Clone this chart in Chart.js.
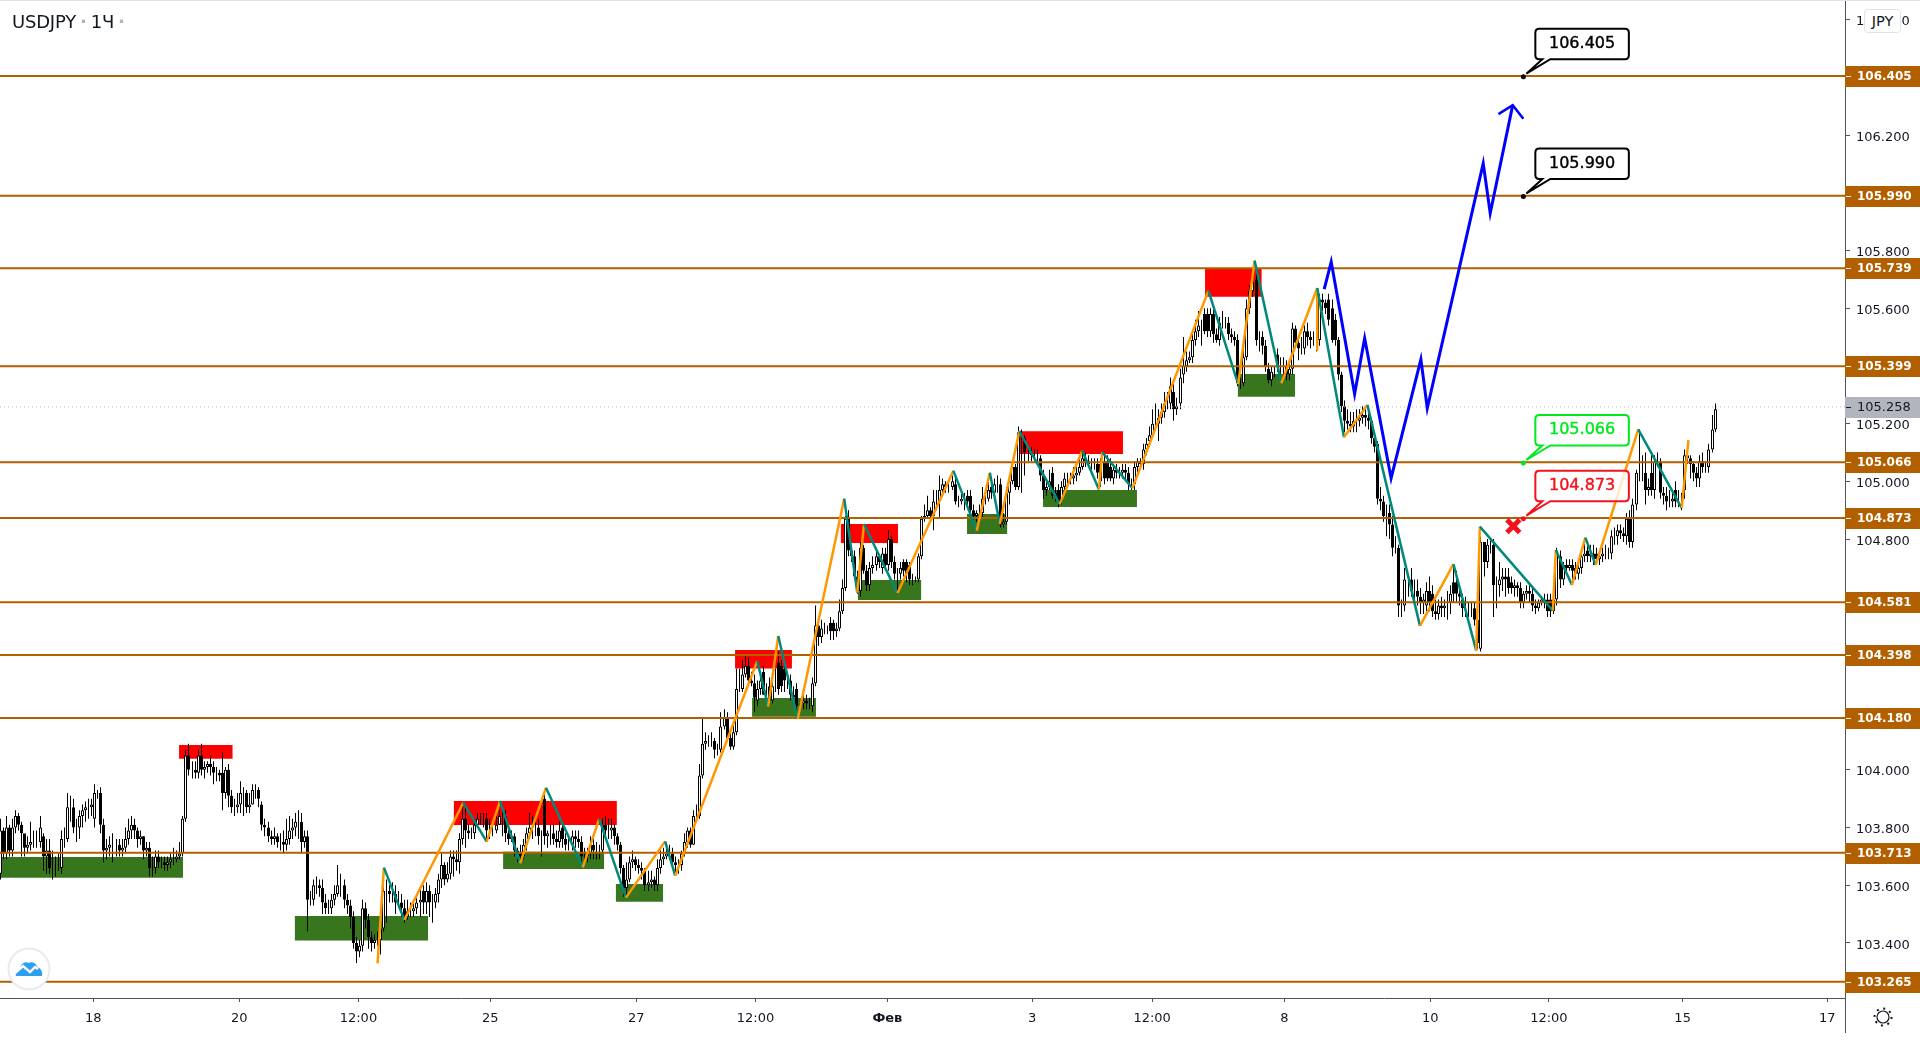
<!DOCTYPE html>
<html>
<head>
<meta charset="utf-8">
<title>USDJPY</title>
<script src="https://cdn.jsdelivr.net/npm/chart.js@4/dist/chart.umd.min.js"></script>
<style>
    html, body { margin: 0; padding: 0; background: #fff; overflow: hidden; }
    #wrap { position: relative; width: 1920px; height: 1042px; }
    #topline { position: absolute; left: 0; top: 0; width: 1920px; height: 1px; background: #e0e3eb; }
    #title { position: absolute; left: 12px; top: 11px; font: 18px "DejaVu Sans"; color: #131722; letter-spacing: -0.2px; }
    #title span { color: #b2b5be; font-weight: bold; margin: 0 4px; }
    #cur { position: absolute; left: 1864px; top: 9px; width: 35px; height: 22px; background: #fff; border: 1px solid #e0e3eb; border-radius: 4px;
           font: 14.5px "DejaVu Sans"; color: #131722; text-align: center; line-height: 22px; }
    #logo { position: absolute; left: 7px; top: 947px; }
    #gear { position: absolute; left: 1872px; top: 1006px; }
</style>
</head>
<body>
<div id="wrap">
    <canvas id="chart" width="1920" height="1042"></canvas>
    <div id="topline"></div>
    <div id="title">USDJPY<span>·</span>1Ч<span>·</span></div>
    <div id="cur">JPY</div>
    <svg id="logo" width="44" height="44">
        <circle cx="22" cy="22" r="20.5" fill="#fff" stroke="#e8eaf0" stroke-width="2"/>
        <path d="M9 29 C8 25 10 22 13 21 C14 17 18 14 22 16 C25 14 30 17 30 20 C34 21 36 25 35 29 Z" fill="#2e9ef0"/>
        <path d="M8 26 L16 19 L23 25 L28 20 L31 22" fill="none" stroke="#fff" stroke-width="2.4"/>
    </svg>
    <svg id="gear" width="22" height="22">
        <circle cx="11" cy="11" r="6" fill="none" stroke="#131722" stroke-width="1.2"/>
        <circle cx="11" cy="11" r="8.5" fill="none" stroke="#131722" stroke-width="2" stroke-dasharray="2 4.67"/>
    </svg>
</div>
<script>
// 1 bar = 3.04px on the time axis, x values below are in bars
const BAR_PX = 3.04;
const X_MAX = 1845 / BAR_PX;
const Y_MIN = 103.2091, Y_MAX = 106.6684;

const tickBars = [30.7, 78.7, 117.9, 161.3, 209.3, 248.5, 291.9, 339.5, 379, 422.5, 470.5, 509.5, 553.5, 601.1];
const tickLabels = ['18', '20', '12:00', '25', '27', '12:00', 'Фев', '3', '12:00', '8', '10', '12:00', '15', '17'];

const levels = [106.405, 105.990, 105.739, 105.399, 105.066, 104.873, 104.581, 104.398, 104.180, 103.713, 103.265];
const lastPrice = 105.258;

const opens = [
103.64,103.79,103.71,103.80,103.72,103.80,103.84,103.81,103.78,103.73,
103.74,103.75,103.75,103.75,103.77,103.70,103.72,103.66,103.66,103.66,
103.66,103.76,103.76,103.87,103.87,103.80,103.80,103.84,103.86,103.87,
103.87,103.83,103.92,103.92,103.81,103.72,103.73,103.74,103.74,103.74,
103.72,103.73,103.76,103.79,103.81,103.79,103.76,103.77,103.72,103.73,
103.66,103.66,103.70,103.68,103.68,103.67,103.68,103.69,103.69,103.70,
103.71,103.83,104.05,104.00,104.00,103.99,104.05,104.00,104.01,104.02,
104.01,103.99,103.99,103.99,103.92,104.00,103.91,103.87,103.87,103.88,
103.92,103.92,103.87,103.88,103.93,103.93,103.88,103.81,103.80,103.77,
103.76,103.77,103.75,103.75,103.74,103.76,103.79,103.80,103.82,103.82,
103.75,103.77,103.55,103.55,103.60,103.60,103.59,103.54,103.52,103.52,
103.55,103.57,103.60,103.60,103.55,103.53,103.49,103.40,103.37,103.39,
103.52,103.48,103.42,103.40,103.41,103.41,103.45,103.58,103.58,103.57,
103.57,103.54,103.54,103.52,103.49,103.51,103.51,103.52,103.54,103.58,
103.54,103.58,103.54,103.54,103.57,103.62,103.67,103.62,103.64,103.70,
103.69,103.68,103.76,103.83,103.79,103.78,103.78,103.81,103.83,103.83,
103.83,103.79,103.79,103.79,103.81,103.84,103.84,103.78,103.76,103.77,
103.72,103.71,103.70,103.74,103.78,103.80,103.80,103.80,103.77,103.90,
103.77,103.78,103.78,103.76,103.75,103.80,103.76,103.74,103.74,103.77,
103.76,103.75,103.70,103.70,103.71,103.74,103.72,103.72,103.72,103.81,
103.79,103.79,103.80,103.77,103.74,103.66,103.59,103.62,103.68,103.69,
103.67,103.66,103.65,103.60,103.61,103.62,103.60,103.66,103.69,103.70,
103.71,103.71,103.68,103.67,103.67,103.71,103.75,103.79,103.74,103.84,
103.84,103.98,104.09,104.10,104.10,104.10,104.07,104.07,104.15,104.18,
104.11,104.08,104.13,104.28,104.28,104.33,104.36,104.31,104.30,104.24,
104.28,104.34,104.26,104.29,104.24,104.29,104.37,104.36,104.35,104.31,
104.31,104.26,104.28,104.22,104.23,104.24,104.23,104.22,104.30,104.50,
104.46,104.49,104.49,104.51,104.51,104.48,104.49,104.55,104.63,104.87,
104.76,104.74,104.67,104.62,104.77,104.69,104.64,104.70,104.71,104.74,
104.70,104.75,104.71,104.80,104.72,104.68,104.68,104.72,104.72,104.71,
104.66,104.66,104.66,104.74,104.87,104.88,104.90,104.88,104.93,104.93,
104.97,104.99,104.98,104.98,104.99,104.93,104.93,104.94,104.95,104.95,
104.90,104.88,104.89,104.89,104.94,104.94,104.98,104.96,104.99,104.99,
104.85,104.86,104.96,105.00,105.05,104.98,105.17,105.15,105.10,105.10,
105.09,105.09,105.08,105.02,104.97,104.98,105.03,104.95,104.97,104.93,
104.98,105.01,105.01,105.01,105.02,105.03,105.05,105.08,105.07,105.06,
105.06,105.06,105.00,105.07,105.07,105.05,105.01,105.04,105.03,105.03,
105.04,105.03,104.99,104.99,105.05,105.07,105.06,105.11,105.14,105.16,
105.20,105.20,105.22,105.24,105.27,105.27,105.31,105.25,105.27,105.37,
105.40,105.42,105.43,105.49,105.52,105.54,105.58,105.58,105.52,105.58,
105.51,105.49,105.55,105.55,105.55,105.51,105.50,105.49,105.34,105.34,
105.43,105.60,105.66,105.70,105.49,105.50,105.47,105.39,105.35,105.38,
105.44,105.40,105.40,105.40,105.37,105.39,105.53,105.48,105.46,105.46,
105.52,105.50,105.49,105.49,105.49,105.63,105.62,105.63,105.60,105.56,
105.49,105.37,105.26,105.21,105.20,105.19,105.21,105.21,105.22,105.23,
105.22,105.21,105.15,105.13,104.94,104.93,104.88,104.89,104.85,104.77,
104.77,104.57,104.57,104.66,104.66,104.62,104.62,104.60,104.58,104.57,
104.62,104.61,104.55,104.54,104.57,104.56,104.57,104.58,104.65,104.65,
104.61,104.59,104.56,104.56,104.56,104.56,104.52,104.42,104.79,104.72,
104.78,104.78,104.64,104.64,104.66,104.67,104.67,104.65,104.63,104.64,
104.63,104.58,104.61,104.62,104.61,104.57,104.56,104.58,104.59,104.59,
104.59,104.55,104.59,104.74,104.66,104.71,104.70,104.71,104.70,104.68,
104.70,104.74,104.76,104.74,104.75,104.75,104.73,104.74,104.75,104.75,
104.75,104.81,104.81,104.83,104.82,104.81,104.87,104.79,104.92,105.03,
105.03,105.03,104.97,105.03,104.97,105.07,105.07,104.96,104.95,104.93,
104.93,104.97,104.93,104.93,104.97,105.09,105.08,105.06,105.03,105.01,
105.07,105.05,105.05,105.11,105.18];

const highs = [
103.83,103.80,103.84,103.81,103.83,103.86,103.85,103.82,103.77,103.77,
103.82,103.79,103.79,103.84,103.78,103.76,103.76,103.72,103.70,103.71,
103.79,103.80,103.92,103.91,103.90,103.83,103.86,103.88,103.89,103.90,
103.90,103.95,103.93,103.94,103.83,103.76,103.77,103.78,103.76,103.76,
103.76,103.80,103.83,103.84,103.83,103.80,103.79,103.77,103.75,103.75,
103.70,103.72,103.72,103.70,103.70,103.70,103.71,103.73,103.72,103.75,
103.84,104.07,104.09,104.03,104.03,104.07,104.09,104.03,104.03,104.05,
104.03,104.01,104.00,104.06,104.01,104.02,103.93,103.90,103.92,103.96,
103.94,103.93,103.92,103.95,103.95,103.94,103.89,103.83,103.82,103.79,
103.80,103.78,103.78,103.79,103.83,103.84,103.83,103.85,103.86,103.85,
103.79,103.79,103.58,103.62,103.63,103.62,103.62,103.57,103.55,103.57,
103.60,103.67,103.64,103.62,103.57,103.55,103.51,103.42,103.41,103.55,
103.54,103.50,103.44,103.43,103.44,103.50,103.60,103.62,103.60,103.61,
103.60,103.58,103.57,103.55,103.55,103.54,103.54,103.57,103.59,103.60,
103.61,103.60,103.57,103.59,103.64,103.71,103.68,103.68,103.72,103.72,
103.72,103.78,103.88,103.87,103.81,103.80,103.83,103.85,103.85,103.85,
103.85,103.83,103.82,103.84,103.86,103.88,103.86,103.80,103.79,103.78,
103.73,103.74,103.76,103.80,103.85,103.84,103.84,103.83,103.79,103.93,
103.79,103.81,103.81,103.79,103.82,103.82,103.78,103.77,103.79,103.79,
103.79,103.77,103.73,103.73,103.77,103.77,103.75,103.74,103.83,103.84,
103.83,103.83,103.81,103.78,103.75,103.67,103.68,103.70,103.72,103.70,
103.69,103.68,103.66,103.65,103.65,103.63,103.69,103.72,103.73,103.74,
103.74,103.73,103.70,103.69,103.72,103.78,103.80,103.80,103.86,103.88,
104.02,104.18,104.13,104.12,104.13,104.11,104.09,104.20,104.21,104.20,
104.14,104.16,104.35,104.35,104.38,104.40,104.39,104.34,104.33,104.31,
104.34,104.36,104.30,104.32,104.31,104.35,104.41,104.38,104.37,104.34,
104.33,104.29,104.30,104.24,104.26,104.26,104.25,104.32,104.57,104.53,
104.52,104.51,104.50,104.53,104.52,104.51,104.59,104.66,104.88,104.90,
104.78,104.76,104.69,104.79,104.78,104.71,104.72,104.74,104.76,104.74,
104.77,104.77,104.83,104.81,104.74,104.70,104.72,104.73,104.73,104.72,
104.68,104.67,104.75,104.88,104.92,104.95,104.91,104.97,104.97,105.02,
105.01,105.00,105.00,105.02,105.01,104.95,104.96,104.96,104.97,104.97,
104.92,104.90,104.92,104.98,104.97,105.00,105.00,105.01,105.02,105.01,
104.89,104.98,105.02,105.06,105.06,105.19,105.18,105.16,105.12,105.12,
105.11,105.11,105.09,105.04,105.00,105.04,105.05,104.98,104.99,105.00,
105.03,105.03,105.03,105.05,105.05,105.08,105.10,105.10,105.09,105.08,
105.08,105.08,105.08,105.09,105.09,105.08,105.06,105.06,105.05,105.06,
105.06,105.05,105.01,105.07,105.08,105.08,105.13,105.15,105.19,105.25,
105.27,105.25,105.27,105.31,105.31,105.36,105.34,105.29,105.39,105.50,
105.45,105.45,105.52,105.56,105.59,105.56,105.60,105.60,105.60,105.60,
105.53,105.57,105.59,105.57,105.57,105.53,105.52,105.51,105.36,105.46,
105.63,105.68,105.71,105.72,105.52,105.52,105.49,105.41,105.40,105.40,
105.46,105.43,105.43,105.42,105.41,105.55,105.54,105.50,105.50,105.54,
105.55,105.52,105.52,105.52,105.65,105.65,105.63,105.65,105.63,105.58,
105.50,105.38,105.28,105.25,105.24,105.24,105.25,105.25,105.26,105.25,
105.24,105.22,105.17,105.14,104.98,104.95,104.92,104.92,104.88,104.81,
104.78,104.59,104.70,104.68,104.70,104.66,104.66,104.63,104.61,104.65,
104.67,104.64,104.59,104.59,104.60,104.59,104.62,104.64,104.70,104.69,
104.63,104.61,104.60,104.58,104.58,104.58,104.53,104.81,104.78,104.80,
104.80,104.80,104.67,104.72,104.70,104.70,104.70,104.67,104.66,104.65,
104.65,104.62,104.64,104.64,104.63,104.59,104.59,104.60,104.61,104.61,
104.61,104.60,104.77,104.76,104.72,104.73,104.73,104.73,104.72,104.71,
104.76,104.80,104.78,104.78,104.78,104.77,104.76,104.77,104.78,104.77,
104.83,104.84,104.85,104.85,104.84,104.89,104.90,104.94,105.04,105.18,
105.09,105.10,105.01,105.10,105.09,105.10,105.08,104.98,104.98,104.97,
104.96,105.00,104.97,104.96,105.11,105.12,105.09,105.07,105.05,105.09,
105.10,105.07,105.13,105.23,105.27];

const lows = [
103.62,103.69,103.69,103.70,103.70,103.78,103.79,103.70,103.70,103.71,
103.72,103.73,103.73,103.73,103.65,103.64,103.64,103.62,103.63,103.65,
103.64,103.73,103.75,103.82,103.78,103.75,103.76,103.80,103.82,103.83,
103.84,103.80,103.90,103.78,103.68,103.69,103.70,103.68,103.70,103.70,
103.70,103.71,103.74,103.76,103.76,103.73,103.74,103.69,103.70,103.63,
103.63,103.64,103.66,103.66,103.65,103.65,103.66,103.67,103.68,103.69,
103.70,103.82,103.98,103.97,103.97,103.97,103.98,103.97,103.99,103.98,
103.95,103.96,103.96,103.86,103.90,103.87,103.85,103.84,103.85,103.85,
103.84,103.85,103.85,103.88,103.90,103.87,103.79,103.77,103.75,103.74,
103.74,103.73,103.72,103.71,103.72,103.74,103.76,103.77,103.76,103.71,
103.73,103.44,103.53,103.53,103.57,103.56,103.50,103.50,103.50,103.50,
103.53,103.56,103.56,103.52,103.50,103.45,103.38,103.33,103.35,103.37,
103.45,103.38,103.37,103.38,103.39,103.36,103.44,103.47,103.54,103.54,
103.50,103.52,103.49,103.47,103.48,103.49,103.49,103.50,103.49,103.50,
103.50,103.49,103.47,103.52,103.54,103.59,103.60,103.61,103.62,103.63,
103.65,103.64,103.74,103.73,103.76,103.76,103.76,103.80,103.81,103.80,
103.75,103.76,103.77,103.78,103.81,103.77,103.75,103.74,103.75,103.70,
103.68,103.68,103.69,103.72,103.76,103.76,103.77,103.74,103.70,103.74,
103.73,103.74,103.74,103.73,103.73,103.73,103.72,103.72,103.72,103.73,
103.73,103.68,103.67,103.68,103.69,103.69,103.69,103.69,103.71,103.77,
103.76,103.76,103.74,103.72,103.64,103.56,103.56,103.61,103.66,103.65,
103.64,103.62,103.58,103.58,103.59,103.58,103.58,103.64,103.67,103.69,
103.69,103.66,103.64,103.64,103.65,103.70,103.73,103.73,103.74,103.82,
103.83,103.97,104.07,104.08,104.08,104.04,104.05,104.06,104.14,104.10,
104.07,104.07,104.12,104.27,104.27,104.32,104.30,104.29,104.20,104.22,
104.26,104.26,104.24,104.22,104.23,104.27,104.26,104.27,104.27,104.28,
104.24,104.23,104.20,104.21,104.21,104.21,104.21,104.20,104.29,104.43,
104.44,104.47,104.47,104.45,104.45,104.46,104.48,104.54,104.62,104.74,
104.72,104.66,104.61,104.60,104.68,104.62,104.62,104.68,104.69,104.70,
104.68,104.69,104.69,104.70,104.66,104.61,104.66,104.67,104.65,104.64,
104.64,104.65,104.65,104.73,104.86,104.87,104.87,104.83,104.90,104.87,
104.95,104.96,104.96,104.97,104.92,104.91,104.92,104.90,104.91,104.88,
104.86,104.86,104.87,104.87,104.92,104.93,104.94,104.95,104.96,104.84,
104.84,104.85,104.92,104.99,104.97,104.97,104.96,105.02,105.07,105.07,
105.07,105.07,105.00,104.94,104.95,104.97,104.94,104.93,104.91,104.92,
104.97,104.99,104.99,104.99,105.00,105.02,105.04,105.05,105.05,105.04,
105.04,105.01,104.98,104.99,105.00,105.00,104.99,105.01,105.01,105.01,
105.00,104.97,104.97,104.97,105.03,105.04,105.04,105.09,105.12,105.15,
105.18,105.14,105.20,105.22,105.25,105.25,105.21,105.23,105.25,105.34,
105.38,105.41,105.41,105.47,105.50,105.47,105.51,105.50,105.50,105.48,
105.48,105.47,105.53,105.53,105.49,105.48,105.47,105.33,105.32,105.33,
105.42,105.58,105.64,105.47,105.45,105.44,105.38,105.34,105.33,105.36,
105.38,105.37,105.36,105.35,105.35,105.37,105.46,105.42,105.44,105.44,
105.47,105.46,105.47,105.45,105.47,105.59,105.58,105.54,105.48,105.47,
105.35,105.24,105.17,105.18,105.17,105.17,105.17,105.19,105.20,105.19,
105.18,105.13,105.10,104.92,104.90,104.86,104.81,104.80,104.74,104.75,
104.53,104.53,104.55,104.60,104.60,104.58,104.57,104.54,104.54,104.55,
104.55,104.53,104.52,104.52,104.53,104.53,104.52,104.54,104.58,104.58,
104.57,104.53,104.53,104.53,104.53,104.50,104.42,104.41,104.67,104.70,
104.75,104.53,104.56,104.60,104.62,104.60,104.61,104.61,104.60,104.60,
104.56,104.56,104.59,104.58,104.55,104.54,104.55,104.57,104.56,104.53,
104.53,104.54,104.57,104.63,104.64,104.68,104.69,104.66,104.66,104.66,
104.68,104.72,104.72,104.72,104.71,104.71,104.71,104.72,104.73,104.73,
104.73,104.78,104.78,104.80,104.79,104.78,104.77,104.77,104.90,105.00,
105.00,104.92,104.95,104.95,104.94,105.05,104.94,104.92,104.90,104.91,
104.91,104.91,104.91,104.90,104.94,105.06,105.01,105.00,104.98,104.98,
105.03,105.03,105.03,105.10,105.17];

const closes = [
103.79,103.71,103.80,103.72,103.80,103.84,103.81,103.78,103.73,103.74,
103.75,103.75,103.75,103.80,103.70,103.72,103.66,103.66,103.66,103.66,
103.76,103.76,103.87,103.87,103.80,103.80,103.84,103.86,103.87,103.87,
103.88,103.92,103.92,103.81,103.72,103.73,103.74,103.74,103.74,103.72,
103.73,103.76,103.79,103.81,103.79,103.76,103.77,103.72,103.73,103.66,
103.66,103.70,103.68,103.68,103.67,103.68,103.69,103.69,103.70,103.71,
103.83,104.05,104.00,104.00,103.99,104.05,104.00,104.01,104.02,104.01,
103.99,103.99,103.98,103.92,104.00,103.91,103.87,103.87,103.88,103.92,
103.92,103.87,103.88,103.93,103.93,103.90,103.81,103.80,103.77,103.76,
103.77,103.75,103.75,103.74,103.76,103.79,103.80,103.82,103.82,103.75,
103.77,103.55,103.55,103.60,103.60,103.59,103.54,103.52,103.52,103.55,
103.57,103.60,103.60,103.55,103.53,103.49,103.40,103.37,103.39,103.52,
103.48,103.42,103.40,103.41,103.41,103.45,103.58,103.58,103.57,103.57,
103.54,103.54,103.52,103.49,103.51,103.51,103.52,103.54,103.55,103.54,
103.58,103.54,103.54,103.57,103.62,103.67,103.62,103.64,103.70,103.69,
103.68,103.76,103.83,103.79,103.78,103.78,103.81,103.83,103.83,103.83,
103.79,103.79,103.79,103.81,103.84,103.84,103.78,103.76,103.77,103.72,
103.71,103.70,103.74,103.78,103.80,103.80,103.80,103.77,103.77,103.77,
103.78,103.78,103.76,103.75,103.79,103.76,103.74,103.74,103.77,103.76,
103.75,103.70,103.70,103.71,103.74,103.72,103.72,103.72,103.81,103.79,
103.79,103.80,103.77,103.74,103.66,103.59,103.62,103.68,103.69,103.67,
103.66,103.65,103.60,103.61,103.62,103.60,103.66,103.69,103.70,103.71,
103.71,103.68,103.67,103.67,103.71,103.75,103.79,103.74,103.84,103.84,
103.98,104.09,104.10,104.10,104.10,104.07,104.07,104.15,104.18,104.11,
104.08,104.13,104.28,104.28,104.33,104.36,104.31,104.30,104.25,104.28,
104.31,104.26,104.26,104.24,104.29,104.29,104.28,104.29,104.31,104.31,
104.26,104.25,104.22,104.23,104.24,104.23,104.23,104.30,104.50,104.46,
104.49,104.49,104.49,104.48,104.48,104.49,104.55,104.63,104.87,104.76,
104.74,104.67,104.62,104.77,104.69,104.64,104.70,104.71,104.74,104.72,
104.75,104.71,104.80,104.72,104.68,104.68,104.70,104.69,104.68,104.66,
104.66,104.66,104.74,104.87,104.88,104.90,104.88,104.93,104.93,104.97,
104.99,104.98,104.98,105.00,104.93,104.93,104.94,104.94,104.93,104.90,
104.88,104.89,104.89,104.94,104.94,104.97,104.96,104.99,104.99,104.85,
104.86,104.96,105.00,105.05,104.98,105.17,105.17,105.10,105.10,105.09,
105.09,105.09,105.02,104.97,104.98,105.00,104.95,104.96,104.93,104.98,
105.01,105.01,105.01,105.02,105.03,105.05,105.08,105.07,105.06,105.06,
105.06,105.03,105.06,105.01,105.01,105.01,105.04,105.03,105.03,105.04,
105.03,104.99,104.99,105.05,105.07,105.06,105.11,105.13,105.16,105.20,
105.20,105.22,105.24,105.27,105.27,105.33,105.25,105.26,105.36,105.40,
105.42,105.43,105.49,105.52,105.54,105.54,105.52,105.52,105.58,105.51,
105.49,105.55,105.55,105.55,105.51,105.50,105.49,105.34,105.34,105.43,
105.60,105.66,105.69,105.49,105.49,105.47,105.40,105.35,105.38,105.38,
105.40,105.40,105.40,105.37,105.39,105.53,105.48,105.46,105.46,105.52,
105.50,105.49,105.49,105.49,105.63,105.62,105.60,105.56,105.49,105.49,
105.37,105.26,105.21,105.20,105.19,105.21,105.21,105.22,105.23,105.22,
105.21,105.15,105.12,104.94,104.93,104.88,104.88,104.85,104.77,104.77,
104.57,104.57,104.66,104.66,104.62,104.62,104.60,104.58,104.59,104.62,
104.58,104.55,104.54,104.57,104.56,104.57,104.57,104.61,104.61,104.61,
104.60,104.56,104.56,104.56,104.56,104.52,104.44,104.79,104.72,104.78,
104.78,104.64,104.64,104.66,104.67,104.66,104.63,104.63,104.64,104.63,
104.58,104.61,104.62,104.61,104.57,104.56,104.58,104.59,104.58,104.55,
104.55,104.59,104.76,104.66,104.71,104.70,104.71,104.69,104.68,104.70,
104.74,104.75,104.74,104.75,104.73,104.73,104.74,104.75,104.75,104.75,
104.81,104.81,104.83,104.82,104.81,104.87,104.79,104.92,105.03,105.03,
105.03,104.97,104.98,104.97,105.07,105.07,104.96,104.95,104.93,104.93,
104.94,104.93,104.93,104.93,105.09,105.08,105.06,105.03,105.01,105.07,
105.05,105.05,105.11,105.18,105.25];

// zones: [first bar, last bar, top price, bottom price]
const redZones = [
    [58.9, 76.5, 104.086, 104.038],
    [149.3, 202.9, 103.892, 103.809],
    [241.8, 260.5, 104.415, 104.351],
    [276.6, 295.4, 104.852, 104.786],
    [335.5, 369.4, 105.174, 105.095],
    [396.4, 415, 105.736, 105.640]
];
const greenZones = [
    [0, 60.2, 103.698, 103.626],
    [97, 140.8, 103.493, 103.408],
    [165.5, 198.7, 103.716, 103.656],
    [202.6, 218.1, 103.604, 103.543],
    [247.4, 268.4, 104.249, 104.184],
    [282.2, 303, 104.658, 104.589],
    [318.1, 331.3, 104.887, 104.817],
    [343.1, 374, 104.970, 104.911],
    [407.2, 426, 105.372, 105.293]
];

const zigzagBars = [124.2, 126.3, 133, 152.4, 160.1, 164.5, 171.1, 179.6, 191.7, 197.1, 205.9, 218.8, 222.1, 249.1, 252.7, 256, 262.4, 277.7, 282, 284.2, 295.2, 313.6, 321.3, 325.6, 328.9, 335.3, 348.6, 356, 361.5, 362.6, 372.5, 397.5, 407.3, 412.7, 421.5, 433.3, 442.1, 449.8, 467.1, 478.1, 485.6, 486.8, 510.8, 511.8, 517.1, 521.5, 524.9, 538.9, 553.2, 555.4];
const zigzagPrices = [103.329, 103.661, 103.480, 103.886, 103.751, 103.892, 103.676, 103.938, 103.662, 103.830, 103.557, 103.752, 103.633, 104.377, 104.219, 104.464, 104.176, 104.940, 104.614, 104.852, 104.612, 105.037, 104.829, 105.030, 104.852, 105.174, 104.921, 105.106, 104.972, 105.101, 104.976, 105.661, 105.337, 105.765, 105.340, 105.670, 105.153, 105.265, 104.499, 104.713, 104.413, 104.843, 104.552, 104.762, 104.641, 104.805, 104.710, 105.180, 104.907, 105.143];
const stubBars = [433.3, 433.3];
const stubPrices = [105.670, 105.453];

const forecastBars = [435.6, 437.9, 445.6, 448.9, 457.6, 467.4, 469.5, 487.9, 490.2, 497.6];
const forecastPrices = [105.666, 105.761, 105.303, 105.496, 105.011, 105.423, 105.253, 106.102, 105.929, 106.304];
const arrowBars = [492.9, 497.6, 501.1];
const arrowPrices = [106.273, 106.304, 106.257];

const calloutBar = 501.1;
const calloutPrices = [106.405, 105.990, 105.066, 104.873];
const calloutColors = ['#000000', '#000000', '#00e81e', '#f5101e'];
const crossBar = 497.8, crossPrice = 104.845;

const LEVEL_COLOR = '#b25f00';
const TEXT_FONT = '"DejaVu Sans"';
const AXIS_COLOR = '#50535e';

// snap the bar centre on a pixel so the thin wicks stay crisp
function barX(i) {
    return (Math.round(i * BAR_PX) + 0.5) / BAR_PX;
}

function pairs(xs, ys) {
    return xs.map((x, i) => ({ x: x, y: ys[i] }));
}

const datasets = [];

function addZone(z, color) {
    datasets.push({
        type: 'bar', grouped: false, order: 10,
        data: [{ x: (z[0] + z[1]) / 2, y: [z[3], z[2]] }],
        barThickness: (z[1] - z[0]) * BAR_PX,
        backgroundColor: color, borderWidth: 0, inflateAmount: 0
    });
}
redZones.forEach(z => addZone(z, '#ff0000'));
greenZones.forEach(z => addZone(z, '#38761d'));

// candles
datasets.push({
    type: 'bar', grouped: false, order: 9,
    data: closes.map((c, i) => ({ x: barX(i), y: [lows[i], highs[i]] })),
    barThickness: 1, backgroundColor: '#000000', borderWidth: 0, inflateAmount: 0
});
datasets.push({
    type: 'bar', grouped: false, order: 8,
    data: closes.map((c, i) => ({ x: barX(i), y: [opens[i], c] })),
    barThickness: 3, inflateAmount: 0,
    backgroundColor: closes.map((c, i) => (c >= opens[i] ? '#ffffff' : '#000000')),
    borderColor: '#000000', borderWidth: 1, borderSkipped: false
});

levels.forEach(v => {
    datasets.push({
        type: 'line', order: 7, data: [{ x: 0, y: v }, { x: X_MAX, y: v }],
        borderColor: LEVEL_COLOR, borderWidth: 2, pointRadius: 0
    });
});
datasets.push({
    type: 'line', order: 7, data: [{ x: 0, y: lastPrice }, { x: X_MAX, y: lastPrice }],
    borderColor: '#b2b5be', borderWidth: 1, borderDash: [1, 3], pointRadius: 0
});

datasets.push({
    type: 'line', order: 5, data: pairs(zigzagBars, zigzagPrices),
    borderWidth: 2.5, pointRadius: 0, borderColor: '#ff9800',
    segment: { borderColor: c => (c.p1.parsed.y > c.p0.parsed.y ? '#ff9800' : '#00897b') }
});
datasets.push({
    type: 'line', order: 6, data: pairs(stubBars, stubPrices),
    borderWidth: 2.5, pointRadius: 0, borderColor: '#ff9800'
});
datasets.push({
    type: 'line', order: 4, data: pairs(forecastBars, forecastPrices),
    borderWidth: 3, pointRadius: 0, borderColor: '#0000ff'
});
datasets.push({
    type: 'line', order: 4, data: pairs(arrowBars, arrowPrices),
    borderWidth: 2.5, pointRadius: 0, borderColor: '#0000ff'
});
datasets.push({
    type: 'line', order: 3, showLine: false, data: [{ x: crossBar, y: crossPrice }],
    pointStyle: 'crossRot', pointRadius: 9, pointBorderWidth: 5, pointBorderColor: '#f5101e'
});

// price tags on the axis and the text callouts, placed from the scales
const overlays = {
    id: 'overlays',
    afterDraw(chart) {
        const ctx = chart.ctx;
        const x = chart.scales.x;
        const y = chart.scales.y;
        ctx.save();

        ctx.strokeStyle = AXIS_COLOR;
        ctx.lineWidth = 1;
        ctx.beginPath();
        ctx.moveTo(1845.5, 998);
        ctx.lineTo(1845.5, 1033);
        ctx.stroke();

        ctx.textBaseline = 'middle';
        ctx.textAlign = 'left';
        const tag = (v, bg, fg, weight) => {
            const py = Math.round(y.getPixelForValue(v));
            ctx.fillStyle = bg;
            ctx.fillRect(1845, py - 10, 75, 21);
            ctx.fillStyle = fg;
            ctx.fillRect(1846, py, 5, 1);
            ctx.font = weight + TEXT_FONT;
            ctx.fillText(v.toFixed(3), 1857, py + 1);
        };
        tag(lastPrice, '#b2b5be', '#131722', '13px ');
        levels.forEach(v => tag(v, LEVEL_COLOR, '#ffffff', 'bold 12px '));

        calloutPrices.forEach((v, i) => {
            const color = calloutColors[i];
            const ax = x.getPixelForValue(calloutBar);
            const ay = y.getPixelForValue(v) + 0.7;
            const L = ax + 12, R = ax + 105.5, T = ay - 48, B = ay - 17.5, r = 4;
            ctx.beginPath();
            ctx.moveTo(L + r, T);
            ctx.lineTo(R - r, T);
            ctx.quadraticCurveTo(R, T, R, T + r);
            ctx.lineTo(R, B - r);
            ctx.quadraticCurveTo(R, B, R - r, B);
            ctx.lineTo(L + 15, B);
            ctx.lineTo(ax + 3, ay - 3);
            ctx.lineTo(L + 7, B);
            ctx.lineTo(L + r, B);
            ctx.quadraticCurveTo(L, B, L, B - r);
            ctx.lineTo(L, T + r);
            ctx.quadraticCurveTo(L, T, L + r, T);
            ctx.closePath();
            ctx.fillStyle = 'rgba(255,255,255,0.8)';
            ctx.fill();
            ctx.strokeStyle = color;
            ctx.lineWidth = 2;
            ctx.stroke();
            ctx.fillStyle = color;
            ctx.beginPath();
            ctx.arc(ax, ay, 2.5, 0, Math.PI * 2);
            ctx.fill();
            ctx.font = '16px ' + TEXT_FONT;
            ctx.textAlign = 'center';
            ctx.lineWidth = 0.4;
            ctx.fillText(v.toFixed(3), (L + R) / 2, (T + B) / 2);
            ctx.strokeText(v.toFixed(3), (L + R) / 2, (T + B) / 2);
        });
        ctx.restore();
    }
};

function fixBox(height, width) {
    return scale => {
        if (height) scale.height = height;
        if (width) scale.width = width;
        scale.paddingLeft = scale.paddingRight = scale.paddingTop = scale.paddingBottom = 0;
    };
}

new Chart(document.getElementById('chart').getContext('2d'), {
    type: 'bar',
    data: { datasets: datasets },
    plugins: [overlays],
    options: {
        responsive: false,
        animation: false,
        devicePixelRatio: 1,
        events: [],
        layout: { padding: 0, autoPadding: false },
        plugins: { legend: { display: false }, tooltip: { enabled: false } },
        scales: {
            x: {
                type: 'linear', min: 0, max: X_MAX, offset: false,
                grid: { drawOnChartArea: false, offset: false, tickLength: 4, tickColor: AXIS_COLOR },
                border: { color: AXIS_COLOR },
                afterBuildTicks: s => { s.ticks = tickBars.map(v => ({ value: v })); },
                afterFit: fixBox(44, 0),
                ticks: {
                    autoSkip: false, maxRotation: 0, padding: 9, color: '#131722',
                    font: c => ({ family: TEXT_FONT, size: 13, weight: tickLabels[c.index] === 'Фев' ? 'bold' : 'normal' }),
                    callback: (v, i) => tickLabels[i]
                }
            },
            y: {
                position: 'right', min: Y_MIN, max: Y_MAX, beginAtZero: false,
                grid: { drawOnChartArea: false, tickLength: 5, tickColor: AXIS_COLOR },
                border: { color: AXIS_COLOR },
                afterFit: fixBox(0, 75),
                ticks: {
                    stepSize: 0.2, includeBounds: false, padding: 6, color: '#131722',
                    font: { family: TEXT_FONT, size: 13, lineHeight: '4.5px' },
                    // labels under a level tag are dropped; the empty first line nudges the text below the tick
                    callback: v => (levels.some(l => Math.abs(l - v) < 0.025) ? null : ['', v.toFixed(3)])
                }
            }
        }
    }
});
</script>
</body>
</html>
